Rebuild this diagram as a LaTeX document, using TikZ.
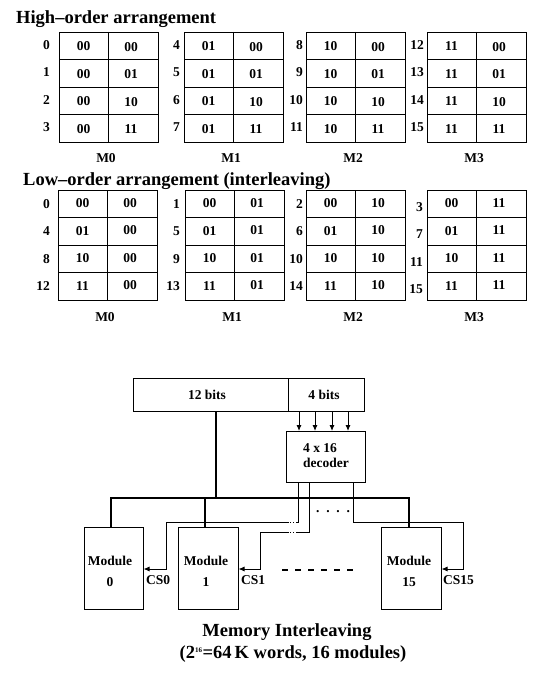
\documentclass[tikz,border=0pt]{standalone}
\usepackage{fontspec}
\setmainfont{Liberation Serif}
\usetikzlibrary{arrows.meta}
\tikzset{
  txt/.style={font=\bfseries\fontsize{13.5}{15}\selectfont, inner sep=0pt},
  ttl/.style={font=\bfseries\fontsize{18.5}{20}\selectfont, inner sep=0pt},
  cellbox/.style={draw=black, line width=0.9pt},
  thin/.style={draw=black, line width=0.9pt},
  bus/.style={draw=black, line width=2.3pt},
  arr/.style={draw=black, line width=0.9pt, -{Latex[length=6pt,width=5pt]}},
}
\begin{document}
\begin{tikzpicture}[x=1pt,y=-1pt]
\useasboundingbox[fill=white] (0,0) rectangle (551,674);

% ---------- titles
\node[ttl, anchor=base west] (hititle) at (16,24) {High--order arrangement};
\node[ttl, anchor=base west] (lotitle) at (23,185) {Low--order arrangement (interleaving)};

% ---------- high-order
\foreach \m/\mb/\l/\g in {0/00/59/9,1/01/184/4,2/10/306/3,3/11/427/3} {
  \draw[cellbox] (\l,32) rectangle ++(99,110);
  \draw[cellbox] (\l+49.5,32) -- ++(0,110);
  \foreach \k in {1,2,3} \draw[cellbox] (\l,32+27.5*\k) -- ++(99,0);
  \foreach \r/\rb in {0/00,1/01,2/10,3/11} {
    \pgfmathtruncatemacro\n{4*\m+\r}
    \node[txt] (hi-\m-\r-a) at (\l+24.5,32+27.5*\r+14.5) {\mb};
    \node[txt] (hi-\m-\r-b) at (\l+72,32+27.5*\r+15) {\rb};
    \node[txt, anchor=east] (hi-\m-\r-n) at (\l-\g,32+27.5*\r+13) {\n};
  }
  \node[txt] (hi-\m-lab) at (\l+47,158) {M\m};
}

% ---------- low-order
\foreach \m/\mb/\l/\g/\dy in {0/00/58/8/0,1/01/185/5/0,2/10/306/3/0,3/11/427/4/3} {
  \draw[cellbox] (\l,190) rectangle ++(99,110);
  \draw[cellbox] (\l+49.5,190) -- ++(0,110);
  \foreach \k in {1,2,3} \draw[cellbox] (\l,190+27.5*\k) -- ++(99,0);
  \foreach \r/\rb in {0/00,1/01,2/10,3/11} {
    \pgfmathtruncatemacro\n{4*\r+\m}
    \node[txt] (lo-\m-\r-a) at (\l+24.5,190+27.5*\r+13.5) {\rb};
    \node[txt] (lo-\m-\r-b) at (\l+72,190+27.5*\r+13) {\mb};
    \node[txt, anchor=east] (lo-\m-\r-n) at (\l-\g,190+27.5*\r+14+\dy) {\n};
  }
  \node[txt] (lo-\m-lab) at (\l+47,317) {M\m};
}

% ---------- address register
\node[draw, thin, minimum width=155pt, minimum height=33pt, inner sep=0pt] (addr12) at (210.5,394.5) {};
\node[draw, thin, minimum width=76pt, minimum height=33pt, inner sep=0pt] (addr4) at (326,394.5) {};
\node[txt] (t12) at (207,395) {12 bits};
\node[txt] (t4) at (324,395) {4 bits};

% ---------- decoder
\node[draw, thin, minimum width=79pt, minimum height=51pt, inner sep=0pt] (dec) at (325.5,456.5) {};
\node[txt] (dect1) at (320,448) {4 x 16};
\node[txt] (dect2) at (326,463) {decoder};
\foreach \x [count=\i] in {299,315,332,348}
  \draw[arr] (\x,411) -- (\x,431);

% ---------- modules
\node[draw, thin, minimum width=59pt, minimum height=82pt, inner sep=0pt] (mod0) at (113.5,568) {};
\node[draw, thin, minimum width=60pt, minimum height=82pt, inner sep=0pt] (mod1) at (208,568) {};
\node[draw, thin, minimum width=60pt, minimum height=82pt, inner sep=0pt] (mod15) at (411,568) {};
\node[txt] (m0a) at (110,561) {Module};
\node[txt] (m0b) at (110,582) {0};
\node[txt] (m1a) at (206,561) {Module};
\node[txt] (m1b) at (206,582) {1};
\node[txt] (m15a) at (409,561) {Module};
\node[txt] (m15b) at (409,582) {15};

% ---------- bus
\coordinate (busL) at (111,498);
\coordinate (busR) at (409,498);
\draw[bus] (216,411) -- (216,498);
\draw[bus] (busL) -- (busR);
\draw[bus] (111,497) -- (111,527);
\draw[bus] (205,497) -- (205,527);
\draw[bus] (409,497) -- (409,527);

% ---------- chip selects
\draw[thin] (298,482) -- (298,522) -- (297,522);
\draw[thin, dotted] (297,522) -- (289,522);
\draw[arr] (289,522) -- (166,522) -- (166,569) -- (143.5,569);
\draw[thin] (309,482) -- (309,532) -- (297,532);
\draw[thin, dotted] (297,532) -- (289,532);
\draw[arr] (289,532) -- (260,532) -- (260,569) -- (238.5,569);
\draw[arr] (353,482) -- (353,522) -- (463,522) -- (463,569) -- (441.5,569);

\node[txt, anchor=west] (cs0) at (146,580) {CS0};
\node[txt, anchor=west] (cs1) at (241,580) {CS1};
\node[txt, anchor=west] (cs15) at (443,580) {CS15};

% dots
\node[txt] (dots1) at (333,512) {.\ \ .\ \ .\ \ .};
\foreach \x in {285,298,311,324,337,350}
  \draw[line width=2.2pt] (\x-3,570) -- (\x+3,570);

% ---------- caption
\node[ttl] (cap1) at (287,632) {Memory Interleaving};
\node[ttl] (cap2) at (293,654) {(2\textsuperscript{\fontsize{7}{8}\selectfont 16}=64\,K words, 16 modules)};
\end{tikzpicture}
\end{document}
